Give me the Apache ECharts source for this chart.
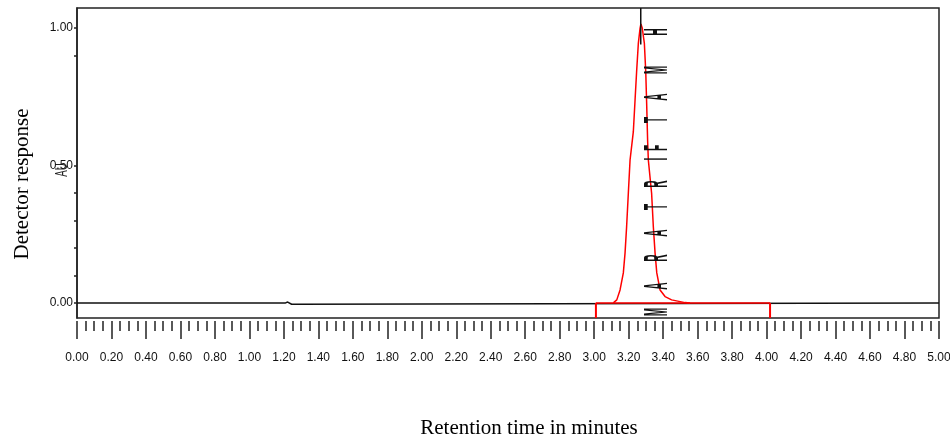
<!DOCTYPE html>
<html>
<head>
<meta charset="utf-8">
<script src="https://cdn.jsdelivr.net/npm/echarts@6/dist/echarts.min.js"></script>
<style>html,body{margin:0;padding:0;background:#fff}#c{width:950px;height:442px}</style>
</head>
<body>
<div id="c"></div>
<script>
// ---- data ----
const baselineT = [0, 1.21, 1.222, 1.232, 1.245, 1.265, 1.275, 5];
const baselineV = [0, 0, 0.003, -0.002, -0.005, -0.005, 0, 0];
const peakT = [3.111, 3.131, 3.150, 3.169, 3.179, 3.188, 3.198, 3.208, 3.227, 3.237, 3.246, 3.256, 3.266, 3.271, 3.279, 3.291, 3.299, 3.304, 3.310, 3.314, 3.333, 3.343, 3.353, 3.363, 3.382, 3.411, 3.449, 3.527, 3.556];
const peakV = [0, 0.011, 0.047, 0.109, 0.182, 0.277, 0.399, 0.520, 0.623, 0.738, 0.841, 0.944, 0.999, 1.015, 0.999, 0.944, 0.841, 0.732, 0.587, 0.520, 0.399, 0.277, 0.182, 0.109, 0.047, 0.023, 0.011, 0.001, 0];
const integStart = 3.01;
const integEnd = 4.02;
const retentionMarkT = 3.27;
const yMin = -0.055, yMax = 1.073;
const yLabelValues = [0, 0.5, 1.0];
const yTickValues = [0, 0.1, 0.2, 0.3, 0.4, 0.5, 0.9, 1.0];
const annotChars = ['H', 'M', 'A', 'T', 'F', 'I', 'R', 'T', 'A', 'R', 'A', 'M'];
const annotY = [32, 70, 97, 120, 148, 159, 184, 207, 233, 258, 286, 312];
const xTitle = 'Retention time in minutes';
const yTitle = 'Detector response';
const yUnit = 'AU';

const zip = (a, b) => a.map((v, i) => [v, b[i]]);

const chart = echarts.init(document.getElementById('c'), null, {renderer: 'canvas'});

const graphics = annotChars.map((ch, i) => ({
  type: 'text', x: 658, y: annotY[i], rotation: Math.PI / 2, scaleX: 0.3, scaleY: 1,
  style: {text: ch, font: 'bold 34px "Liberation Sans", Arial, sans-serif', fill: '#111', align: 'center', verticalAlign: 'middle'},
  z: 10
}));
graphics.push({
  type: 'text', x: 529, y: 428,
  style: {text: xTitle, font: '21px "Liberation Serif", "Times New Roman", serif', fill: '#000', align: 'center', verticalAlign: 'middle'}
});
graphics.push({
  type: 'text', x: 22, y: 184, rotation: Math.PI / 2,
  style: {text: yTitle, font: '21px "Liberation Serif", "Times New Roman", serif', fill: '#000', align: 'center', verticalAlign: 'middle'}
});
graphics.push({
  type: 'text', x: 63, y: 170, rotation: Math.PI / 2, scaleX: 0.6,
  style: {text: yUnit, font: '16px "Liberation Sans", Arial, sans-serif', fill: '#222', align: 'center', verticalAlign: 'middle'}
});

const lineBase = {type: 'line', showSymbol: false, symbol: 'none', animation: false, silent: true};

chart.setOption({
  animation: false,
  backgroundColor: '#fff',
  grid: {left: 77, right: 11, top: 8, bottom: 124, outerBoundsMode: 'none', containLabel: false, show: true, borderColor: '#222', borderWidth: 1.5, backgroundColor: 'transparent'},
  xAxis: {
    type: 'value', min: 0, max: 5, interval: 0.2, offset: 3,
    axisLine: {show: false, onZero: false},
    axisTick: {show: true, length: 18, lineStyle: {color: '#222', width: 1.5}},
    minorTick: {show: true, splitNumber: 4, length: 10, lineStyle: {color: '#222', width: 1.5}},
    splitLine: {show: false},
    axisLabel: {
      margin: 25, fontSize: 12, lineHeight: 24, color: '#111',
      fontFamily: '"Liberation Sans Narrow", "Liberation Sans", sans-serif',
      showMinLabel: true, showMaxLabel: true,
      formatter: v => v.toFixed(2)
    }
  },
  yAxis: {
    type: 'value', min: yMin, max: yMax,
    axisLine: {show: true, onZero: false, lineStyle: {color: '#222', width: 1.5}},
    axisTick: {show: true, length: 3, customValues: yTickValues, lineStyle: {color: '#222', width: 1.5}},
    splitLine: {show: false},
    axisLabel: {
      margin: 4, fontSize: 12, color: '#111',
      fontFamily: '"Liberation Sans Narrow", "Liberation Sans", sans-serif',
      customValues: yLabelValues,
      formatter: v => v.toFixed(2)
    }
  },
  graphic: graphics,
  series: [
    Object.assign({}, lineBase, {name: 'baseline', data: zip(baselineT, baselineV), lineStyle: {color: '#111', width: 1.5}, z: 2}),
    Object.assign({}, lineBase, {name: 'integration', data: [[integStart, 0], [integEnd, 0]], lineStyle: {color: '#ff0000', width: 1.5}, z: 3}),
    Object.assign({}, lineBase, {name: 'startMark', data: [[integStart, 0], [integStart, yMin]], lineStyle: {color: '#ff0000', width: 2}, z: 3}),
    Object.assign({}, lineBase, {name: 'endMark', data: [[integEnd, 0], [integEnd, yMin]], lineStyle: {color: '#ff0000', width: 2}, z: 3}),
    Object.assign({}, lineBase, {name: 'peak', data: zip(peakT, peakV), lineStyle: {color: '#ff0000', width: 1.5}, z: 4}),
    Object.assign({}, lineBase, {name: 'rtMark', data: [[retentionMarkT, yMax], [retentionMarkT, 0.94]], lineStyle: {color: '#111', width: 1.5}, z: 5})
  ]
});
</script>
</body>
</html>
